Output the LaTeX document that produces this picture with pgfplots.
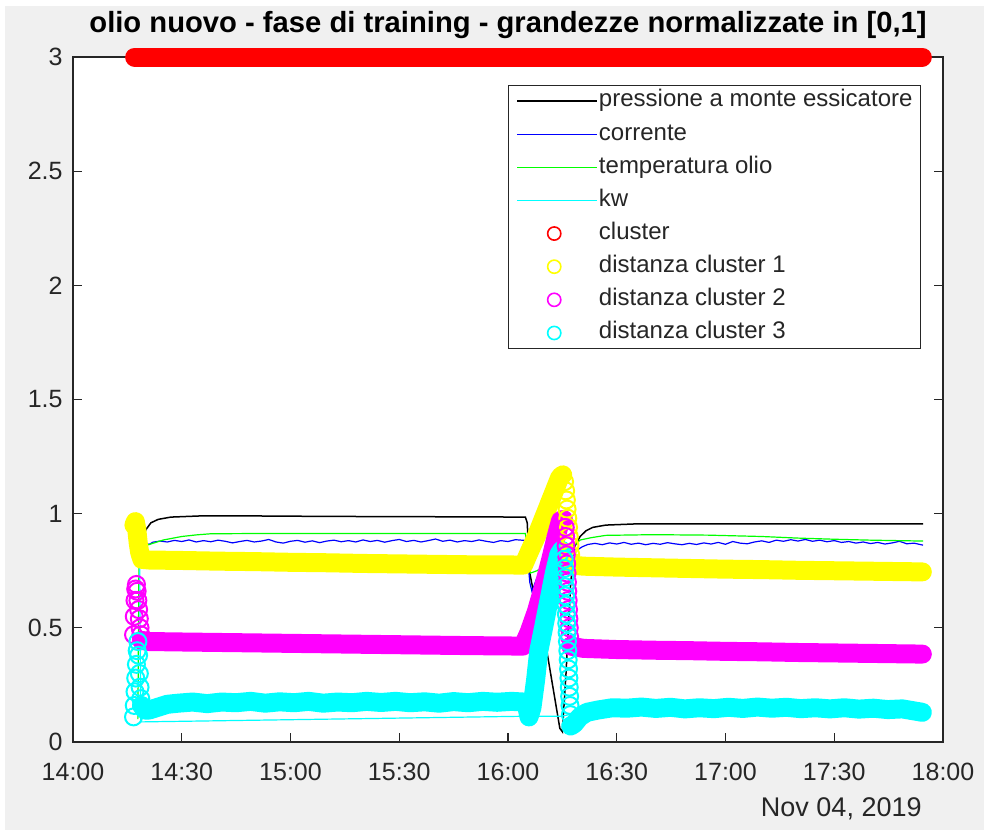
\documentclass[border=0pt]{standalone}
\usepackage{fontspec}
\setmainfont{Liberation Sans}
\usepackage{pgfplots}
\pgfplotsset{compat=1.18}
\definecolor{axgray}{HTML}{262626}
\definecolor{bggray}{HTML}{F0F0F0}
\definecolor{mred}{rgb}{1,0,0}
\definecolor{myellow}{rgb}{1,1,0}
\definecolor{mmagenta}{rgb}{1,0,1}
\definecolor{mcyan}{rgb}{0,1,1}
\definecolor{mgreen}{rgb}{0,1,0}
\definecolor{mblue}{rgb}{0,0,1}
\pgfplotsset{
  linelegend/.style={legend image code/.code={\draw[##1] (0bp,0bp) -- (40bp,0bp);}},
  circlegend/.style={legend image code/.code={\draw[##1] plot coordinates {(18.5bp,0bp)};}},
  band/.style={line width=9.5bp, line cap=round, line join=round, no marks, forget plot},
  rings/.style={only marks, mark=o, mark size=4.25bp, mark options={line width=1bp, solid}, forget plot},
}
\begin{document}
\begin{tikzpicture}
\fill[white] (-36.5bp,-44bp) rectangle (455.5bp,371bp);
\fill[bggray] (-34bp,-44bp) rectangle (455.5bp,368bp);
\useasboundingbox (-36.5bp,-44bp) rectangle (455.5bp,371bp);
\begin{axis}[
  at={(0,0)}, anchor=south west,
  scale only axis, width=435bp, height=342.5bp,
  xmin=0, xmax=240, ymin=0, ymax=3,
  clip=false,
  axis background/.style={fill=white},
  axis line style={axgray, line width=0.6bp},
  tick style={axgray, line width=0.6bp},
  major tick length=4.5bp,
  xtick={0,30,60,90,120,150,180,210,240},
  xticklabels={14:00,14:30,15:00,15:30,16:00,16:30,17:00,17:30,18:00},
  ytick={0,0.5,1,1.5,2,2.5,3},
  yticklabels={0,0.5,1,1.5,2,2.5,3},
  ticklabel style={font=\fontsize{12.5bp}{14bp}\selectfont, text=axgray},
  xticklabel style={anchor=north, inner sep=0pt, yshift=-10.5bp},
  yticklabel style={anchor=east, inner sep=0pt, xshift=-5bp},
  title={olio nuovo - fase di training - grandezze normalizzate in [0,1]},
  title style={at={(0.5,1)}, anchor=base, yshift=6.3bp, inner sep=0pt,
    font=\bfseries\fontsize{14.6bp}{16bp}\selectfont},
  legend style={at={(0.9747,0.959)}, anchor=north east, draw=axgray, line width=0.5bp,
    fill=white, inner xsep=4bp, inner ysep=0.7bp, row sep=2.57bp,
    font=\fontsize{12bp}{13bp}\selectfont, text=axgray,
    nodes={inner xsep=0bp, inner ysep=1.5bp, text height=8.5bp, text depth=2.5bp},
    /tikz/every odd column/.append style={column sep=0.5bp}},
  legend cell align=left,
]
% pressione
\addplot[black, line width=0.75bp, linelegend] coordinates {
(17.8,0.80) (18.8,0.88) (20.1,0.93) (21.5,0.96) (23.5,0.975) (27,0.985) (35,0.99) (50,0.99)
(70,0.988) (90,0.987) (110,0.986) (124.8,0.985) (125.3,0.96) (126.0,0.74) (127,0.66)
(130.8,0.39) (134.3,0.06) (135.0,0.045) (136.0,0.3) (137.3,0.7) (138.5,0.86) (139.9,0.9)
(141.5,0.925) (143.4,0.94) (147,0.95) (155,0.955) (234.5,0.955)};
% corrente
\addplot[mblue, line width=0.6bp, linelegend] coordinates {
(18.0,0.82) (19.0,0.86) (20.0,0.872) (21.0,0.865) (22,0.875) (24,0.88) (26,0.876) (28,0.883)
(30,0.878) (32,0.885) (34,0.876) (36,0.882) (38,0.877) (40,0.884) (42,0.879) (44,0.872)
(46,0.878) (48,0.883) (50,0.876) (52,0.88) (54,0.887) (56,0.876) (58,0.871) (60,0.879)
(62,0.883) (64,0.875) (66,0.881) (68,0.873) (70,0.88) (72,0.884) (74,0.877) (76,0.882)
(78,0.876) (80,0.885) (82,0.878) (84,0.883) (86,0.875) (88,0.882) (90,0.887) (92,0.878)
(94,0.883) (96,0.876) (98,0.882) (100,0.889) (102,0.879) (104,0.884) (106,0.876) (108,0.882)
(110,0.878) (112,0.885) (114,0.879) (116,0.874) (118,0.882) (120,0.878) (122,0.886) (124.6,0.883)
(125.3,0.83) (126.0,0.70) (126.6,0.66) (128,0.72) (130,0.76) (132,0.78) (134,0.8) (135.5,0.8)
(137.5,0.8) (139,0.84) (140.5,0.855) (142,0.865) (144,0.87) (146,0.864) (148,0.872) (150,0.867)
(152,0.874) (154,0.866) (156,0.871) (158,0.864) (160,0.87) (162,0.866) (164,0.873) (166,0.868)
(168,0.864) (170,0.87) (172,0.865) (174,0.872) (176,0.867) (178,0.874) (180,0.866) (182,0.878)
(184,0.871) (186,0.868) (188,0.876) (190,0.881) (192,0.874) (194,0.884) (196,0.879) (198,0.886)
(200,0.88) (202,0.887) (204,0.879) (206,0.884) (208,0.877) (210,0.882) (212,0.874) (214,0.878)
(216,0.871) (218,0.876) (220,0.869) (222,0.874) (224,0.867) (226,0.872) (228,0.879) (230,0.868)
(232,0.871) (234.5,0.862)};
% temperatura olio
\addplot[mgreen, line width=0.6bp, linelegend] coordinates {
(17.9,0.1) (18.2,0.8) (20,0.86) (22,0.87) (25,0.885) (30,0.9) (34,0.907) (38,0.912) (50,0.913)
(124.8,0.913) (125.4,0.85) (126.2,0.74) (128,0.75) (131,0.78) (134,0.8) (136,0.81) (138,0.86)
(140,0.885) (143,0.895) (147,0.905) (160,0.908) (175,0.906) (190,0.9) (200,0.893) (210,0.888)
(220,0.884) (234.5,0.88)};
% kw
\addplot[mcyan, line width=0.6bp, linelegend] coordinates {
(18.4,0.8) (18.7,0.088) (125.5,0.113) (134.8,0.113) (137,0.12) (140,0.13) (234.5,0.13)};
\addlegendimage{mred, mark=o, mark size=3.3bp, line width=0.8bp, circlegend}
\addlegendimage{myellow, mark=o, mark size=3.3bp, line width=0.8bp, circlegend}
\addlegendimage{mmagenta, mark=o, mark size=3.3bp, line width=0.8bp, circlegend}
\addlegendimage{mcyan, mark=o, mark size=3.3bp, line width=0.8bp, circlegend}
% cluster
\addplot[mred, band] coordinates {(17.0,3) (234.3,3)};
% distanza cluster 1
\addplot[myellow, band] coordinates {
(16.8,0.95) (17.2,0.965) (17.6,0.93) (18.0,0.87) (18.4,0.83) (19.0,0.80) (21,0.797) (30,0.795)
(40,0.792) (50,0.79) (60,0.787) (70,0.785) (80,0.782) (90,0.78) (100,0.778) (110,0.776)
(124.3,0.775) (125.8,0.83) (127.8,0.9) (129.8,0.98) (131.8,1.06) (133.3,1.12) (134.3,1.16) (135.1,1.17)};
\addplot[myellow, rings] coordinates {
(135.6,1.14) (135.9,1.10) (136.1,1.06) (136.3,1.02) (136.5,0.98) (136.7,0.94) (136.9,0.9)
(137.1,0.86) (137.3,0.82) (137.6,0.79)};
\addplot[myellow, band] coordinates {
(137.8,0.775) (140.8,0.77) (150,0.766) (160,0.763) (170,0.76) (180,0.757) (190,0.755)
(200,0.752) (210,0.75) (220,0.748) (234.3,0.745)};
% distanza cluster 2
\addplot[mmagenta, rings] coordinates {
(16.7,0.47) (16.9,0.55) (17.1,0.62) (17.3,0.67) (17.5,0.69) (17.7,0.66) (17.9,0.62) (18.1,0.58)
(18.3,0.54) (18.5,0.5) (18.7,0.47)};
\addplot[mmagenta, band] coordinates {
(18.9,0.445) (21,0.44) (30,0.438) (40,0.436) (50,0.434) (60,0.432) (70,0.43) (80,0.428)
(90,0.426) (100,0.424) (110,0.422) (124.1,0.42) (125.8,0.48) (127.8,0.57) (129.8,0.68)
(131.8,0.8) (133.3,0.9) (134.5,0.97) (135.3,0.975)};
\addplot[mmagenta, rings] coordinates {
(135.8,0.94) (135.9,0.90) (136.0,0.86) (136.1,0.82) (136.2,0.78) (136.3,0.74) (136.4,0.70)
(136.5,0.66) (136.6,0.62) (136.7,0.58) (136.8,0.54) (136.9,0.50) (137.0,0.46)};
\addplot[mmagenta, band] coordinates {
(137.3,0.42) (140.8,0.41) (150,0.405) (160,0.402) (170,0.4) (180,0.397) (190,0.395)
(200,0.392) (210,0.39) (220,0.388) (234.3,0.385)};
% distanza cluster 3
\addplot[mcyan, rings] coordinates {
(16.7,0.11) (16.9,0.16) (17.1,0.22) (17.3,0.28) (17.5,0.34) (17.7,0.4) (17.9,0.44) (18.1,0.38)
(18.3,0.3) (18.5,0.24) (18.7,0.19)};
\addplot[mcyan, band] coordinates {
(18.9,0.16) (19.8,0.14) (21,0.14) (23,0.15) (26,0.165) (29,0.17) (33,0.175) (37,0.168)
(41,0.175) (45,0.172) (49,0.178) (53,0.17) (57,0.176) (61,0.172) (65,0.178) (69,0.17)
(73,0.175) (77,0.172) (81,0.178) (85,0.173) (89,0.178) (93,0.172) (97,0.176) (101,0.17)
(105,0.177) (109,0.172) (113,0.178) (117,0.174) (121,0.178) (124.3,0.175) (125.1,0.16)
(125.8,0.11) (126.6,0.15) (127.6,0.27) (128.5,0.4) (129.8,0.5) (131.3,0.62) (132.8,0.74)
(134,0.82) (134.8,0.84)};
\addplot[mcyan, rings] coordinates {
(135.5,0.80) (135.6,0.76) (135.7,0.72) (135.8,0.68) (135.9,0.64) (136.0,0.60) (136.1,0.56)
(136.2,0.52) (136.3,0.48) (136.4,0.44) (136.5,0.40) (136.6,0.36) (136.7,0.32) (136.8,0.28)
(136.9,0.24) (137.0,0.20) (137.1,0.16) (137.2,0.12)};
\addplot[mcyan, band] coordinates {
(137.3,0.07) (138.3,0.08) (139.8,0.11) (141.8,0.13) (144.8,0.14) (148.8,0.15) (152.8,0.148)
(156.8,0.153) (160.8,0.147) (164.8,0.152) (168.8,0.145) (172.8,0.15) (176.8,0.146)
(180.8,0.152) (184.8,0.147) (188.8,0.153) (192.8,0.148) (196.8,0.152) (200.8,0.146)
(204.8,0.15) (208.8,0.145) (212.8,0.15) (216.8,0.144) (220.8,0.148) (224.8,0.142)
(228.8,0.145) (234.3,0.13)};
\legend{pressione a monte essicatore, corrente, temperatura olio, kw, cluster,
  distanza cluster 1, distanza cluster 2, distanza cluster 3}
\end{axis}
\node[anchor=base east, inner sep=0pt, text=axgray, font=\fontsize{13.5bp}{15bp}\selectfont]
  at (424.5bp,-37bp) {Nov 04, 2019};
\end{tikzpicture}
\end{document}
